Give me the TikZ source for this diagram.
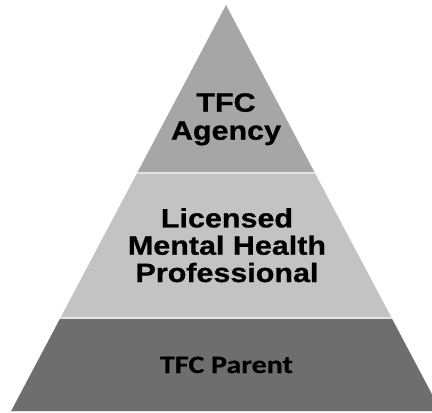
\documentclass[tikz,border=0pt]{standalone}
\usepackage{fontspec}
\newfontfamily\arialx[FakeStretch=1.15,BoldFeatures={FakeBold=0.8}]{Liberation Sans}
\newfontfamily\calx[FakeStretch=1.2,BoldFeatures={FakeBold=0.6}]{Carlito}
\definecolor{topband}{HTML}{A6A6A6}
\definecolor{midband}{HTML}{C3C3C3}
\definecolor{botband}{HTML}{6E6E6E}
\definecolor{sepline}{HTML}{E4E4E4}
\tikzset{
  label/.style={inner sep=0pt, align=center, text=black},
  sep/.style={draw=sepline, line width=2pt},
}
\begin{document}
\begin{tikzpicture}[x=1pt,y=-1pt]
\useasboundingbox (0,0) rectangle (432,413);
\coordinate (apex) at (226,5);
\coordinate (bl) at (10.6,412);
\coordinate (br) at (441.4,412);
\begin{scope}
  \clip (apex) -- (br) -- (bl) -- cycle;
  \fill[topband] (0,0) rectangle (442,173);
  \fill[midband] (0,173) rectangle (442,318);
  \fill[botband] (0,318) rectangle (442,412);
  \draw[sep] (0,173) -- (442,173);
  \draw[sep] (0,318) -- (442,318);
  \draw[draw=sepline, line width=1pt] (0,411.5) -- (442,411.5);
\end{scope}
\node[label, anchor=north, font={\arialx\bfseries\fontsize{26.5}{28}\selectfont}] (agency) at (226,93) {TFC\\Agency};
\node[label, anchor=north, font={\arialx\bfseries\fontsize{26.5}{27.3}\selectfont}] (lmhp) at (227,208) {Licensed\\Mental Health\\Professional};
\node[label, anchor=base, font={\calx\bfseries\fontsize{25}{28}\selectfont}] (parent) at (226.5,373) {TFC Parent};
\end{tikzpicture}
\end{document}
